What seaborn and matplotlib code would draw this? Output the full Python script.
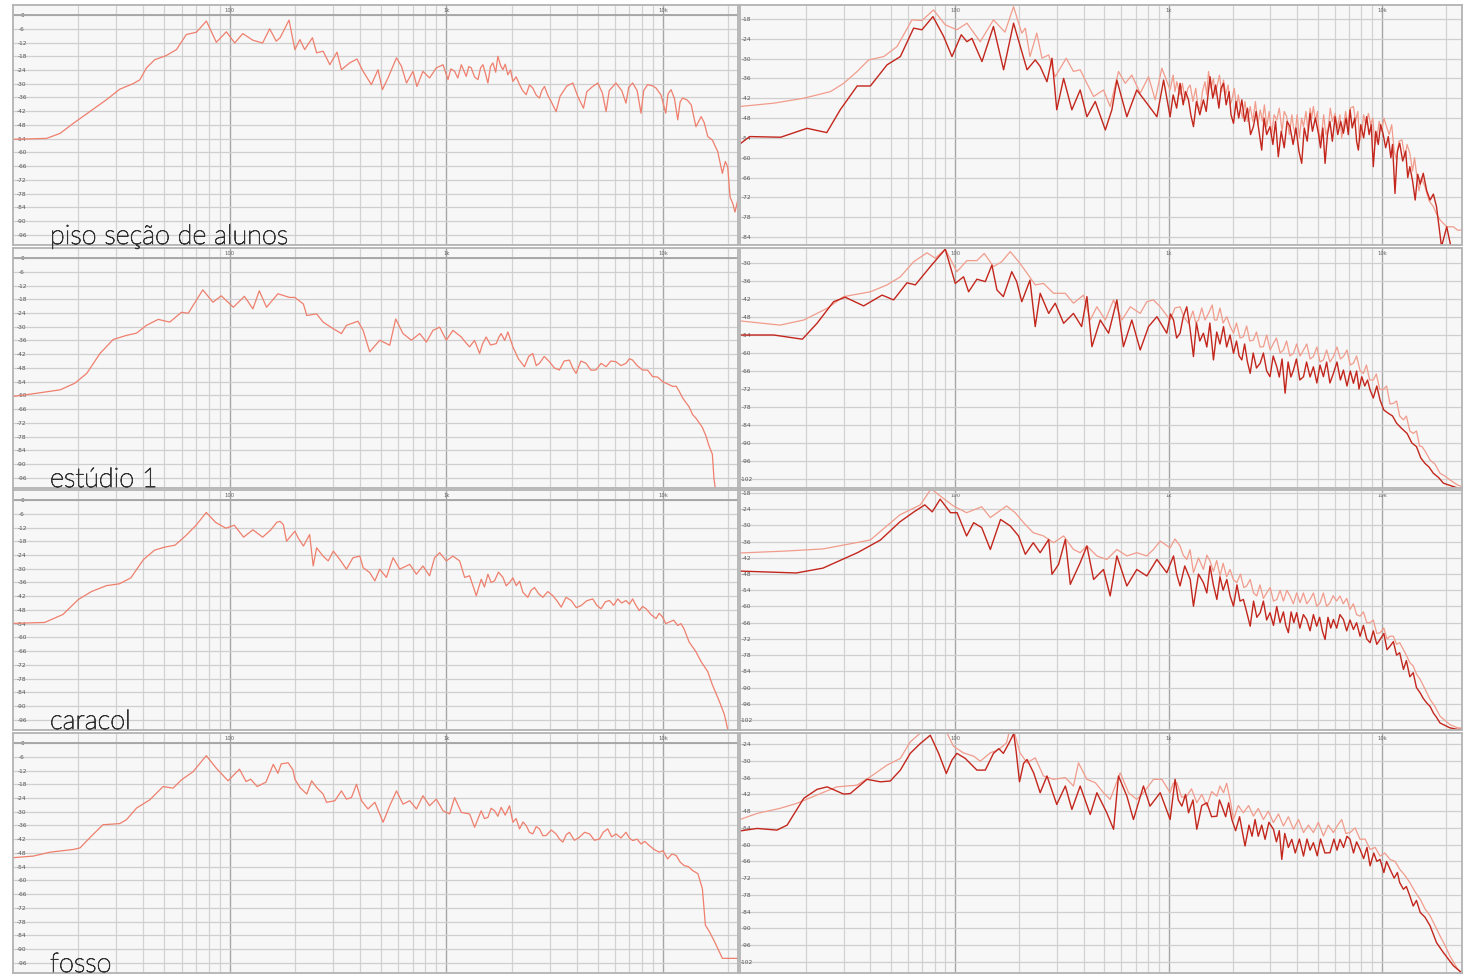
import matplotlib
matplotlib.use("Agg")
import matplotlib.pyplot as plt
import matplotlib.patheffects as pe
import seaborn as sns
import pandas as pd
from matplotlib.ticker import FixedLocator, LogLocator, NullFormatter

# =========================
# DATA  (frequency Hz, level dB)
# =========================
# left column: one response per room
PISO = [(10, -54.3), (14.3, -53.9), (16.5, -51.7), (19.0, -47.3), (22.6, -42.2), (27.0, -37.0), (31.1, -32.4),
        (35.8, -30.0), (38.5, -28.3), (41.3, -23.1), (45.1, -19.5), (51.0, -17.7), (56.8, -15.1), (63.1, -8.5),
        (70.2, -7.5), (78.1, -2.6), (86.8, -11.9), (96.6, -7.3), (105.5, -12.2), (115, -8.1), (128, -11.0),
        (142, -12.2), (153, -6.0), (164, -11.4), (171, -9.9), (188, -2.2), (200, -15.1), (211, -10.7), (222, -15.1),
        (241, -9.9), (252, -16.5), (270, -15.8), (290, -21.7), (313, -16.2), (328, -23.9), (358, -20.9), (387, -19.2),
        (413, -24.6), (451, -30.4), (484, -23.9), (507, -32.6), (538, -27.5), (589, -18.7), (621, -22.4),
        (655, -29.7), (702, -24.6), (732, -31.2), (780, -24.6), (837, -27.5), (899, -23.1), (966, -21.7),
        (1018, -28.2), (1050, -23.5), (1092, -24.6), (1130, -27.5), (1173, -21.7), (1236, -26.8), (1270, -22.5),
        (1304, -23.1), (1350, -27.0), (1400, -28.2), (1440, -23.0), (1476, -21.7), (1520, -26.0), (1556, -29.7),
        (1600, -22.5), (1640, -20.9), (1690, -25.0), (1730, -18.0), (1780, -22.0), (1825, -23.9), (1870, -21.5),
        (1924, -26.1), (1980, -24.0), (2029, -29.0), (2100, -27.0), (2178, -30.4), (2250, -33.0), (2337, -34.8),
        (2420, -30.5), (2507, -31.9), (2600, -35.0), (2692, -36.3), (2760, -33.0), (2839, -31.2), (2940, -35.0),
        (3047, -37.8), (3212, -42.2), (3350, -35.5), (3600, -31.0), (3838, -29.7), (4047, -35.6), (4297, -40.7),
        (4450, -33.5), (4700, -31.5), (5002, -29.7), (5250, -34.0), (5463, -42.2), (5650, -33.0), (6070, -29.7),
        (6450, -33.0), (6750, -38.5), (6950, -31.5), (7244, -29.7), (7600, -33.0), (7918, -42.9), (8150, -33.0),
        (8494, -30.4), (9000, -31.0), (9290, -31.9), (9800, -35.0), (10300, -42.9), (10550, -34.5), (10900, -32.6),
        (11300, -36.5), (11700, -45.8), (12000, -38.0), (12300, -36.3), (12900, -37.0), (13500, -39.2),
        (14200, -48.8), (15000, -44.4), (15500, -47.0), (16100, -53.1), (16900, -54.6), (17900, -59.7),
        (18800, -69.2), (19400, -64.0), (19900, -66.3), (20400, -79.5), (21000, -82.4), (21500, -86.1),
        (22500, -78.0)]

ESTUDIO = [(10, -60.5), (12.4, -59.3), (16.5, -57.6), (19.3, -54.7), (21.9, -50.4), (25.2, -41.7), (29.0, -35.6),
           (33.4, -33.8), (37.2, -32.8), (41.3, -29.4), (46.8, -26.8), (52.9, -28.0), (59.9, -23.7), (64.4, -24.1),
           (75.2, -13.9), (83.7, -19.3), (91.5, -16.5), (104, -21.5), (117, -16.7), (128, -22.2), (137, -14.3),
           (148, -21.5), (167, -15.6), (189, -17.2), (200, -17.2), (219, -20.1), (227, -25.1), (252, -24.4),
           (270, -28.0), (301, -30.9), (328, -33.0), (346, -29.4), (391, -27.6), (413, -31.6), (443, -41.0),
           (493, -35.9), (548, -38.1), (584, -26.6), (631, -33.0), (690, -35.9), (754, -33.0), (809, -36.7),
           (868, -31.6), (932, -30.2), (1000, -35.9), (1073, -31.6), (1173, -34.5), (1230, -37.0), (1281, -38.8),
           (1350, -36.0), (1425, -41.7), (1470, -37.5), (1528, -34.5), (1600, -38.0), (1700, -37.4), (1750, -34.5),
           (1791, -33.0), (1860, -36.0), (1924, -32.3), (2029, -38.8), (2150, -44.0), (2295, -47.5), (2400, -43.0),
           (2507, -41.7), (2600, -47.0), (2692, -46.0), (2830, -43.0), (2993, -45.3), (3150, -48.0), (3327, -48.9),
           (3500, -45.0), (3700, -44.6), (3830, -48.0), (3970, -50.4), (4180, -45.0), (4415, -46.0), (4650, -49.0),
           (4909, -48.9), (5180, -46.0), (5463, -47.5), (5750, -45.0), (6070, -45.3), (6400, -47.0), (6750, -46.0),
           (7000, -44.0), (7244, -44.6), (7600, -47.0), (8054, -48.9), (8500, -49.0), (8955, -51.8), (9450, -52.0),
           (9960, -54.0), (10500, -55.0), (11100, -56.1), (11500, -56.0), (11900, -58.3), (12300, -61.0),
           (12800, -63.3), (13200, -65.0), (13700, -68.4), (14200, -70.0), (14700, -72.0), (15200, -74.0),
           (15800, -77.8), (16300, -82.0), (16900, -85.7), (17200, -96.5), (17500, -101.5)]

CARACOL = [(10, -53.9), (14, -53.5), (17, -50.0), (20, -43.5), (23, -40.0), (27, -37.4), (31, -36.6), (35, -34.0),
           (40, -26.0), (45, -21.9), (50, -20.6), (56, -19.7), (63, -15.4), (70, -11.0), (78, -5.4), (86, -9.7),
           (96, -12.3), (105, -11.0), (116, -16.2), (128, -13.0), (142, -16.2), (155, -13.0), (165, -9.7),
           (171, -9.3), (177, -10.8), (183, -18.0), (200, -13.6), (207, -16.5), (219, -20.1), (234, -15.1),
           (243, -28.8), (252, -20.9), (270, -24.5), (285, -26.6), (301, -22.3), (322, -25.9), (346, -30.2),
           (371, -25.2), (399, -24.5), (413, -29.5), (443, -31.7), (468, -35.3), (493, -30.2), (529, -33.8),
           (568, -25.2), (610, -30.2), (678, -28.1), (728, -32.4), (780, -28.8), (837, -33.1), (883, -25.2),
           (932, -23.0), (1000, -26.6), (1073, -24.5), (1152, -26.6), (1215, -33.8), (1281, -33.1), (1375, -41.8),
           (1449, -34.6), (1500, -38.0), (1556, -32.4), (1610, -36.0), (1670, -35.3), (1740, -31.5), (1825, -33.8),
           (1890, -37.5), (1958, -36.0), (2030, -34.0), (2103, -37.4), (2180, -35.5), (2256, -40.3), (2378, -42.5),
           (2460, -39.5), (2553, -38.2), (2670, -41.0), (2789, -42.5), (2940, -40.0), (3102, -41.8), (3240, -44.0),
           (3390, -46.8), (3570, -42.5), (3770, -43.9), (3980, -47.0), (4192, -46.1), (4450, -44.0), (4742, -43.2),
           (4950, -46.0), (5179, -47.5), (5420, -44.5), (5660, -43.9), (5920, -46.0), (6185, -43.2), (6450, -45.0),
           (6750, -43.9), (7000, -45.5), (7244, -43.2), (7500, -46.0), (7780, -48.3), (8050, -46.5), (8356, -47.5),
           (8800, -50.0), (9290, -51.8), (9600, -49.5), (9960, -51.1), (10300, -54.0), (10700, -53.3),
           (11200, -52.5), (11700, -54.8), (12100, -54.0), (12500, -56.2), (13200, -62.0), (14200, -66.3),
           (15000, -70.6), (16100, -75.0), (16900, -80.7), (18200, -87.9), (19200, -93.7), (19900, -100.2),
           (20500, -104.0)]

FOSSO = [(10, -50.1), (12.4, -49.4), (14.8, -47.7), (19.0, -46.5), (20.4, -45.8), (22.6, -41.4), (26.0, -35.7),
         (31.1, -35.2), (33.4, -33.5), (37.2, -28.4), (42.8, -24.8), (49.3, -19.0), (54.8, -19.7), (59.9, -16.1),
         (67.8, -12.5), (78.0, -5.5), (86.8, -11.0), (98.3, -16.5), (111, -11.4), (119, -16.8), (125, -15.8),
         (134, -19.0), (147, -17.1), (159, -9.3), (167, -13.2), (173, -9.1), (186, -8.6), (196, -11.7),
         (200, -15.8), (211, -19.4), (227, -22.3), (239, -16.5), (252, -19.4), (270, -22.3), (280, -25.9),
         (306, -25.2), (328, -20.9), (346, -24.5), (365, -23.8), (385, -18.0), (406, -25.2), (435, -28.8),
         (468, -25.9), (511, -34.6), (548, -27.4), (589, -20.9), (631, -26.7), (678, -25.2), (728, -28.8),
         (780, -23.0), (837, -27.4), (899, -24.5), (966, -29.6), (1036, -31.0), (1092, -23.8), (1173, -30.3),
         (1281, -31.0), (1351, -36.8), (1449, -29.6), (1500, -33.0), (1556, -32.5), (1610, -28.5), (1670, -29.6),
         (1730, -32.0), (1791, -28.1), (1870, -31.5), (1958, -27.4), (2029, -34.6), (2100, -33.0), (2178, -37.5),
         (2260, -34.5), (2337, -36.1), (2420, -39.0), (2507, -39.7), (2600, -36.5), (2692, -37.5), (2790, -40.5),
         (2891, -40.4), (3050, -38.0), (3212, -39.7), (3330, -42.0), (3450, -43.3), (3580, -40.0), (3700, -39.0),
         (3900, -42.5), (4111, -41.2), (4350, -39.0), (4583, -39.7), (4830, -42.5), (5093, -41.9), (5300, -39.0),
         (5559, -37.5), (5800, -41.0), (6070, -39.7), (6400, -41.5), (6750, -39.0), (7000, -41.5), (7244, -42.6),
         (7600, -42.0), (7918, -44.1), (8250, -43.0), (8644, -44.8), (9100, -46.5), (9616, -47.7), (10000, -47.0),
         (10500, -50.6), (11000, -48.5), (11500, -49.1), (12000, -52.0), (12500, -53.5), (13100, -54.0),
         (13700, -55.7), (14500, -57.1), (15200, -63.6), (15700, -79.6), (16400, -82.5), (17300, -86.8),
         (18200, -91.2), (18800, -94.1), (21000, -94.1), (22300, -94.1)]

# right column: two takes per room (light / dark)
PISO_A = [(9.8, -44.5), (14.1, -43.5), (19.5, -42.0), (26.0, -40.0), (30.0, -37.5), (34.7, -33.9), (39.3, -30.4),
          (46.2, -29.4), (53.3, -26.4), (62.7, -18.3), (69.8, -18.5), (79.1, -15.3), (89.8, -19.8), (101.8, -21.3),
          (113.4, -19.3), (130.9, -24.9), (151, -18.3), (171, -22.0), (187.6, -14.3), (205, -22.3), (213, -20.8),
          (224, -29.4), (241, -22.3), (255, -29.9), (274, -28.9), (294, -35.5), (331, -29.9), (358, -33.9),
          (385, -33.4), (414, -37.5), (445, -41.5), (495, -39.5), (532, -44.5), (582, -33.9), (626, -37.5),
          (672, -35.0), (736, -40.5), (805, -35.5), (865, -42.5), (929, -32.9), (1016, -39.5), (1050, -35.0),
          (1070, -40.0), (1092, -37.0), (1130, -41.0), (1160, -37.5), (1195, -42.5), (1230, -39.0), (1262, -38.0),
          (1300, -43.0), (1340, -39.0), (1370, -44.0), (1405, -45.5), (1440, -40.0), (1480, -37.0), (1510, -41.0),
          (1538, -33.9), (1580, -39.0), (1620, -36.0), (1650, -41.0), (1683, -38.5), (1730, -35.0), (1770, -40.0),
          (1808, -36.5), (1850, -41.0), (1900, -38.0), (1940, -44.0), (1978, -42.5), (2030, -39.0), (2080, -45.0),
          (2120, -41.0), (2163, -44.5), (2220, -48.0), (2280, -43.0), (2340, -49.0), (2411, -44.5), (2480, -49.0),
          (2550, -43.0), (2620, -50.0), (2686, -45.5), (2750, -49.0), (2810, -44.0), (2884, -50.6), (2960, -46.0),
          (3040, -53.0), (3120, -47.0), (3212, -48.6), (3300, -45.0), (3400, -52.0), (3480, -46.0), (3577, -47.6),
          (3680, -53.0), (3780, -47.0), (3850, -51.0), (3918, -52.6), (4000, -47.0), (4100, -54.0), (4200, -48.0),
          (4285, -50.6), (4400, -46.0), (4500, -52.0), (4600, -45.0), (4680, -48.0), (4768, -44.5), (4880, -49.0),
          (4980, -46.0), (5100, -55.0), (5211, -52.6), (5330, -47.0), (5450, -53.0), (5606, -50.6), (5720, -45.0),
          (5850, -49.0), (6026, -46.6), (6180, -51.0), (6350, -47.0), (6470, -54.0), (6592, -50.6), (6750, -46.0),
          (6900, -50.0), (7100, -45.0), (7345, -44.5), (7520, -49.0), (7700, -46.0), (7850, -55.0), (8035, -52.6),
          (8200, -47.0), (8400, -50.0), (8630, -46.6), (8850, -50.0), (9050, -48.0), (9250, -56.0), (9442, -54.6),
          (9700, -49.0), (9950, -52.0), (10200, -48.0), (10500, -50.6), (10800, -53.0), (11100, -50.0),
          (11400, -58.0), (11700, -60.7), (12000, -55.0), (12400, -54.6), (12800, -60.0), (13100, -56.0),
          (13500, -58.7), (13900, -64.0), (14200, -60.0), (14500, -64.7), (14900, -70.0), (15300, -66.0),
          (15900, -68.8), (16600, -73.0), (17400, -74.8), (18000, -77.0), (18700, -78.8), (20100, -80.9),
          (21600, -80.9), (22600, -81.9), (23700, -81.9)]
PISO_B = [(9.8, -55.8), (10.9, -53.6), (15.2, -53.8), (20.2, -51.1), (25.0, -52.4), (28.9, -45.5), (34.7, -38.3),
          (40.0, -38.3), (47.9, -31.9), (55.3, -29.4), (63.8, -20.8), (69.8, -21.3), (78.6, -17.3), (88.2, -23.3),
          (96.5, -29.4), (106.7, -22.8), (113.4, -24.9), (119.7, -23.9), (133.4, -30.9), (151, -20.3),
          (168.5, -33.4), (187.6, -19.3), (205, -27.9), (217, -33.4), (237, -30.4), (250, -32.4), (269, -37.0),
          (284, -29.9), (299, -45.5), (322, -36.0), (352, -45.5), (385, -39.5), (414, -47.6), (453, -43.0),
          (505, -51.6), (542, -45.5), (572, -36.5), (637, -47.6), (709, -39.5), (790, -43.5), (881, -47.6),
          (947, -36.5), (1016, -47.6), (1050, -41.0), (1090, -45.0), (1131, -37.5), (1170, -44.0), (1200, -40.0),
          (1239, -42.5), (1270, -47.0), (1307, -50.6), (1350, -43.0), (1400, -47.0), (1455, -42.5), (1500, -46.0),
          (1563, -35.5), (1610, -42.0), (1660, -38.0), (1720, -45.0), (1760, -39.0), (1808, -37.5), (1860, -44.0),
          (1920, -40.0), (1960, -47.0), (2013, -49.6), (2070, -43.0), (2130, -48.0), (2203, -42.5), (2270, -49.0),
          (2340, -45.0), (2420, -53.0), (2496, -50.6), (2570, -46.0), (2650, -52.0), (2730, -57.7), (2800, -48.0),
          (2880, -53.0), (2985, -50.6), (3080, -56.0), (3170, -49.0), (3265, -59.7), (3370, -52.0), (3480, -57.0),
          (3590, -49.0), (3704, -50.6), (3830, -56.0), (3950, -51.0), (4080, -58.0), (4203, -61.7), (4320, -51.0),
          (4460, -55.0), (4600, -46.6), (4720, -52.0), (4870, -48.0), (5033, -52.6), (5150, -57.0), (5280, -51.0),
          (5408, -61.7), (5550, -53.0), (5700, -49.0), (5850, -55.0), (6026, -47.6), (6200, -53.0), (6400, -49.0),
          (6592, -52.6), (6780, -48.0), (6950, -53.0), (7080, -45.5), (7250, -51.0), (7450, -48.0), (7600, -55.0),
          (7745, -57.7), (7950, -50.0), (8200, -54.0), (8470, -47.6), (8700, -53.0), (8900, -50.0), (9100, -62.7),
          (9350, -52.0), (9600, -56.0), (9850, -50.0), (10100, -52.6), (10400, -57.0), (10700, -53.6),
          (11000, -60.0), (11200, -56.0), (11500, -70.8), (11800, -58.0), (12100, -55.6), (12500, -61.0),
          (12900, -58.0), (13200, -66.0), (13500, -62.7), (13900, -67.0), (14300, -72.8), (14700, -65.0),
          (15100, -68.0), (15600, -64.7), (16200, -70.0), (16800, -72.8), (17400, -71.0), (18000, -74.8),
          (19000, -86.9), (20100, -80.9), (21200, -88.0), (23700, -88.0)]

ESTUDIO_A = [(9.8, -49.3), (15.1, -50.7), (19.5, -49.0), (25.1, -45.1), (30.0, -41.2), (40.0, -39.6), (47.9, -37.3),
             (55.3, -34.6), (63.8, -29.6), (73.7, -26.6), (80.6, -28.4), (89.8, -25.4), (101.8, -32.9),
             (113.4, -29.2), (126.3, -29.2), (136.7, -26.8), (151, -31.2), (165, -29.6), (181, -26.2), (201, -30.1),
             (217, -33.4), (237, -37.3), (259, -36.8), (289, -40.1), (328, -40.1), (358, -43.4), (399, -40.7),
             (429, -49.0), (461, -44.6), (505, -49.0), (552, -42.3), (604, -49.0), (661, -44.6), (736, -46.8),
             (790, -42.9), (849, -42.3), (913, -44.6), (1016, -49.0), (1070, -45.0), (1131, -44.6), (1180, -48.0),
             (1239, -50.1), (1300, -46.0), (1340, -50.0), (1380, -49.0), (1430, -45.0), (1480, -49.0), (1538, -46.8),
             (1600, -44.0), (1640, -49.0), (1683, -49.0), (1740, -45.0), (1800, -50.0), (1873, -47.9), (1940, -51.0),
             (2013, -53.4), (2080, -50.0), (2160, -55.0), (2240, -54.6), (2320, -51.0), (2400, -56.0), (2496, -55.7),
             (2580, -53.0), (2680, -58.0), (2781, -57.9), (2880, -54.0), (2990, -59.0), (3098, -56.8), (3200, -55.0),
             (3330, -60.0), (3451, -59.0), (3570, -56.0), (3700, -61.0), (3845, -60.1), (3980, -57.0), (4130, -61.0),
             (4285, -59.0), (4440, -57.0), (4600, -62.0), (4768, -61.2), (4950, -58.0), (5120, -63.0), (5312, -62.3),
             (5500, -59.0), (5700, -63.0), (5917, -61.2), (6150, -58.0), (6380, -62.0), (6592, -61.2), (6850, -59.0),
             (7100, -64.0), (7345, -63.4), (7600, -61.0), (7900, -66.0), (8180, -66.8), (8450, -64.0), (8750, -69.0),
             (9100, -69.0), (9400, -67.0), (9750, -72.0), (10100, -72.3), (10500, -71.0), (10900, -77.0),
             (11300, -76.8), (11700, -76.0), (12100, -81.0), (12600, -82.3), (13000, -81.0), (13500, -86.0),
             (14000, -86.8), (14500, -86.0), (15000, -91.0), (15400, -91.2), (16000, -93.0), (16800, -95.7),
             (17700, -97.0), (18700, -100.1), (19700, -101.0), (20800, -102.3), (22600, -104.0), (23700, -104.5)]
ESTUDIO_B = [(9.8, -54.0), (14.1, -54.0), (19.2, -55.4), (22.5, -50.1), (26.9, -42.9), (30.5, -41.4), (37.2, -44.3),
             (45.4, -40.7), (51.4, -42.3), (59.4, -36.6), (65.0, -37.3), (76.4, -31.2), (89.8, -25.4), (100, -36.8),
             (109.4, -34.6), (115.5, -39.6), (126.3, -35.4), (138.3, -36.2), (148.5, -30.7), (156.8, -39.0),
             (168, -41.2), (184, -32.9), (194, -36.2), (205, -42.9), (224, -35.7), (237, -51.2), (250, -40.1),
             (274, -46.8), (294, -43.4), (322, -50.1), (358, -46.8), (391, -51.2), (414, -41.2), (437, -57.9),
             (478, -49.0), (523, -53.4), (572, -42.3), (614, -57.9), (672, -49.0), (736, -59.0), (805, -51.2),
             (881, -47.9), (980, -53.4), (1020, -47.0), (1054, -49.0), (1090, -55.0), (1131, -53.4), (1170, -48.0),
             (1216, -44.6), (1260, -52.0), (1307, -61.2), (1350, -50.0), (1400, -56.0), (1455, -53.4), (1510, -58.0),
             (1560, -50.0), (1622, -62.3), (1680, -53.0), (1740, -57.0), (1808, -51.2), (1870, -58.0), (1940, -54.0),
             (2013, -60.1), (2080, -56.0), (2140, -61.0), (2203, -62.3), (2270, -57.0), (2340, -63.0), (2411, -66.8),
             (2490, -60.0), (2580, -65.0), (2686, -63.4), (2780, -60.0), (2880, -66.0), (2985, -67.9), (3090, -61.0),
             (3212, -64.6), (3300, -68.0), (3400, -62.0), (3514, -73.4), (3630, -63.0), (3740, -68.0), (3845, -65.7),
             (3970, -62.0), (4120, -69.0), (4285, -67.9), (4430, -63.0), (4600, -68.0), (4768, -64.6), (4950, -70.0),
             (5120, -64.0), (5312, -67.9), (5500, -63.0), (5700, -70.0), (5917, -66.8), (6150, -63.0), (6380, -69.0),
             (6592, -65.7), (6850, -71.0), (7100, -66.0), (7345, -70.1), (7600, -66.0), (7800, -72.0), (8035, -67.9),
             (8300, -71.0), (8550, -69.0), (8790, -72.3), (9100, -75.0), (9450, -71.0), (9790, -75.7),
             (10200, -79.0), (10700, -80.1), (11200, -81.0), (11700, -83.4), (12300, -85.0), (13100, -86.8),
             (13800, -90.0), (14500, -91.2), (15200, -95.0), (15900, -96.8), (16600, -98.0), (17400, -100.1),
             (18400, -101.5), (19400, -103.4), (22600, -105.0), (23700, -105.5)]

CARACOL_A = [(9.8, -40.2), (16, -39.5), (24, -38.7), (40, -35.4), (55, -26.1), (68.6, -22.4), (77, -16.5),
             (85, -19.1), (98, -22.8), (113, -25.3), (133, -23.1), (146, -27.1), (174, -22.8), (191, -25.3),
             (209, -29.0), (232, -32.7), (259, -33.9), (289, -36.4), (322, -33.9), (358, -38.9), (385, -40.1),
             (414, -37.6), (461, -41.3), (513, -42.6), (572, -38.9), (637, -41.3), (709, -40.1), (790, -41.3),
             (849, -38.9), (913, -35.8), (1016, -38.3), (1070, -35.0), (1131, -37.6), (1170, -41.0), (1216, -42.6),
             (1260, -39.0), (1307, -47.5), (1380, -42.0), (1455, -46.3), (1510, -41.0), (1563, -43.2), (1620, -47.0),
             (1680, -43.0), (1741, -48.7), (1800, -44.0), (1870, -49.0), (1940, -46.3), (2010, -50.0), (2085, -51.2),
             (2170, -48.0), (2250, -53.0), (2322, -52.4), (2410, -50.0), (2500, -55.0), (2587, -56.1), (2680, -52.0),
             (2780, -57.0), (2884, -54.9), (2990, -53.0), (3100, -58.0), (3212, -57.4), (3330, -54.0), (3450, -58.0),
             (3580, -54.0), (3704, -56.1), (3840, -59.0), (3980, -55.0), (4129, -58.6), (4280, -55.0), (4440, -59.0),
             (4600, -57.4), (4770, -55.0), (4950, -60.0), (5127, -58.6), (5310, -55.0), (5500, -60.0), (5704, -58.6),
             (5900, -56.0), (6120, -58.0), (6353, -56.1), (6580, -59.0), (6830, -57.0), (7080, -61.1), (7340, -59.0),
             (7600, -63.0), (7889, -63.6), (8180, -62.0), (8480, -66.0), (8790, -66.0), (9100, -65.0), (9450, -70.0),
             (9790, -69.7), (10200, -68.0), (10550, -72.0), (10900, -71.0), (11300, -71.0), (11700, -74.0),
             (12100, -73.4), (12600, -76.0), (13000, -78.0), (13500, -80.8), (14000, -82.0), (14500, -85.0),
             (15100, -87.0), (16000, -91.0), (16800, -94.4), (17700, -97.0), (18700, -100.6), (20800, -103.7),
             (22600, -104.9), (23700, -105.0)]
CARACOL_B = [(9.8, -46.9), (18, -47.6), (24, -45.8), (35, -40.0), (44.6, -35.4), (55, -28.7), (64, -25.0),
             (72, -22.4), (78, -25.0), (85, -20.3), (95, -25.3), (102, -25.3), (113, -33.9), (122, -29.0),
             (133, -30.8), (146, -38.9), (163, -27.8), (181, -30.2), (198, -33.9), (213, -40.7), (232, -36.4),
             (250, -40.1), (274, -35.2), (284, -48.1), (305, -44.4), (328, -35.2), (346, -51.8), (385, -43.8),
             (414, -37.6), (445, -50.0), (495, -46.3), (532, -56.1), (572, -41.3), (637, -52.4), (709, -46.3),
             (790, -48.7), (881, -42.6), (980, -47.5), (1054, -41.3), (1090, -48.0), (1131, -52.4), (1190, -45.0),
             (1262, -50.0), (1307, -59.9), (1380, -48.0), (1455, -51.2), (1510, -55.0), (1563, -45.0), (1620, -52.0),
             (1683, -57.4), (1740, -49.0), (1800, -54.0), (1873, -50.0), (1940, -56.0), (2013, -59.9), (2090, -52.0),
             (2160, -58.0), (2240, -57.4), (2320, -62.0), (2411, -67.3), (2500, -58.0), (2590, -64.0), (2686, -62.3),
             (2780, -58.0), (2880, -65.0), (2985, -62.3), (3100, -67.0), (3210, -60.0), (3327, -66.0), (3450, -62.0),
             (3540, -67.0), (3640, -69.7), (3750, -62.0), (3860, -66.0), (3981, -62.3), (4120, -68.0), (4280, -63.0),
             (4433, -64.8), (4600, -69.0), (4770, -63.0), (4940, -67.3), (5100, -64.0), (5250, -69.0), (5408, -72.2),
             (5580, -64.0), (5750, -68.0), (5917, -64.8), (6130, -68.0), (6350, -63.0), (6592, -64.8), (6830, -69.0),
             (7080, -65.0), (7345, -68.5), (7600, -66.0), (7889, -71.0), (8180, -67.0), (8480, -72.0), (8790, -73.4),
             (9100, -69.0), (9450, -74.0), (9790, -72.2), (10200, -70.0), (10550, -76.0), (10900, -74.7),
             (11300, -73.0), (11700, -78.0), (12100, -77.1), (12600, -83.3), (13000, -80.0), (13500, -86.0),
             (14000, -84.5), (14500, -90.0), (15100, -92.0), (15600, -94.0), (16200, -95.7), (16800, -97.0),
             (17400, -99.4), (18000, -101.0), (18700, -103.1), (20800, -104.9), (22600, -105.5), (23700, -105.5)]

FOSSO_A = [(9.8, -51.0), (11.8, -48.8), (15.1, -47.0), (18.1, -45.2), (22.5, -42.2), (27.9, -39.3), (34.6, -38.7),
           (40.0, -35.7), (47.9, -31.5), (55.3, -29.1), (61.5, -23.2), (69.8, -19.5), (78, -16.0), (88, -17.0),
           (93, -21.1), (98, -24.7), (109, -27.1), (122, -28.3), (131, -30.1), (146, -27.1), (160, -25.9),
           (174, -23.5), (181, -18.0), (188, -19.0), (201, -27.1), (217, -30.7), (237, -28.9), (259, -35.4),
           (289, -36.6), (328, -36.0), (358, -39.0), (378, -30.7), (414, -36.6), (453, -37.8), (495, -41.4),
           (532, -43.8), (593, -34.3), (649, -41.4), (709, -43.8), (762, -41.4), (849, -36.6), (929, -36.6),
           (1016, -41.4), (1050, -38.0), (1092, -37.8), (1150, -43.0), (1216, -42.6), (1280, -40.0), (1355, -45.0),
           (1430, -42.0), (1510, -46.2), (1590, -41.0), (1683, -42.6), (1740, -39.0), (1808, -41.4), (1870, -38.0),
           (1940, -43.8), (2013, -51.0), (2120, -46.0), (2240, -48.6), (2370, -46.0), (2496, -49.8), (2630, -47.0),
           (2781, -51.0), (2930, -48.0), (3098, -52.1), (3270, -49.0), (3451, -53.3), (3640, -50.0), (3845, -54.5),
           (4060, -51.0), (4285, -55.7), (4520, -53.0), (4768, -55.7), (5030, -52.0), (5312, -56.9), (5600, -53.0),
           (5917, -55.7), (6200, -53.0), (6471, -51.0), (6770, -56.0), (7080, -55.7), (7480, -54.0), (7889, -58.1),
           (8330, -58.0), (8790, -61.7), (9290, -61.0), (9790, -64.1), (10300, -63.0), (10900, -65.3),
           (11500, -66.0), (12100, -68.8), (12800, -71.0), (13500, -73.6), (14300, -77.0), (15100, -79.6),
           (15900, -83.0), (16800, -85.5), (17700, -89.0), (18700, -92.7), (19700, -96.0), (20800, -99.9),
           (22600, -104.6), (23700, -106.0)]
FOSSO_B = [(9.8, -55.1), (11.8, -54.2), (14.6, -54.8), (16.3, -53.0), (19.5, -43.4), (22.5, -40.2), (25.1, -39.3),
           (30.0, -41.9), (32.2, -41.7), (38.6, -36.6), (44.6, -37.5), (49.6, -37.2), (55.3, -33.3), (61.5, -27.3),
           (68.5, -23.8), (76.4, -20.8), (83.6, -27.3), (90.8, -34.5), (96.5, -29.7), (101.8, -27.3),
           (111.4, -29.1), (126.3, -33.3), (138.3, -33.3), (151, -27.3), (160, -25.6), (168, -27.3), (178, -23.8),
           (188, -20.2), (193, -26.7), (200, -37.5), (209, -30.9), (217, -29.5), (233, -34.3), (250, -41.4),
           (269, -35.4), (299, -45.6), (328, -39.0), (352, -47.4), (385, -39.0), (429, -49.2), (461, -41.4),
           (513, -48.6), (552, -54.5), (582, -35.4), (637, -42.6), (684, -51.0), (762, -39.0), (818, -46.2),
           (913, -41.4), (1016, -51.0), (1072, -36.6), (1110, -44.0), (1153, -46.2), (1200, -42.0), (1239, -48.6),
           (1300, -44.0), (1355, -54.5), (1430, -46.0), (1510, -45.0), (1590, -50.0), (1683, -49.8), (1730, -44.0),
           (1776, -46.2), (1850, -50.0), (1910, -45.0), (1978, -51.0), (2060, -55.0), (2150, -50.0), (2280, -60.5),
           (2380, -53.0), (2460, -57.0), (2541, -51.0), (2630, -57.0), (2730, -53.0), (2830, -58.1), (2950, -52.0),
           (3098, -54.5), (3200, -59.0), (3300, -55.0), (3390, -65.3), (3500, -56.0), (3640, -61.0), (3776, -58.1),
           (3920, -63.0), (4100, -58.0), (4285, -64.1), (4450, -58.0), (4600, -62.0), (4768, -59.3), (4970, -64.0),
           (5150, -58.0), (5400, -63.0), (5704, -62.9), (5950, -58.0), (6150, -62.0), (6353, -58.1), (6600, -61.0),
           (6850, -57.0), (7080, -58.1), (7350, -63.0), (7600, -59.0), (7889, -61.7), (8200, -65.0), (8500, -61.0),
           (8790, -67.6), (9150, -63.0), (9450, -66.0), (9790, -65.3), (10200, -70.0), (10500, -66.0),
           (10900, -68.8), (11400, -72.0), (11800, -70.0), (12100, -73.6), (12600, -76.0), (13000, -75.0),
           (13500, -78.4), (14000, -82.0), (14500, -80.0), (15100, -84.3), (15900, -86.0), (16800, -89.1),
           (18000, -95.1), (19400, -98.7), (21600, -103.4), (23700, -106.0)]

NAMES = ["piso seção de alunos", "estúdio 1", "caracol", "fosso"]
LEFT_CURVES = [PISO, ESTUDIO, CARACOL, FOSSO]
RIGHT_CURVES = [(PISO_A, PISO_B), (ESTUDIO_A, ESTUDIO_B), (CARACOL_A, CARACOL_B), (FOSSO_A, FOSSO_B)]

LEFT_YTICKS = list(range(0, -97, -6))
RIGHT_YTICKS = [list(range(-18, -85, -6)), list(range(-30, -103, -6)),
                list(range(-18, -103, -6)), list(range(-24, -103, -6))]
LEFT_YLIM = (-100.5, 4.4)
RIGHT_YLIM = [(-86.4, -13.8), (-105, -25), (-105.7, -16.9), (-106, -20)]
FREQ_TICKS = [100, 1000, 10000]
FREQ_LABELS = ["100", "1k", "10k"]

# =========================
# LAYOUT / STYLE
# =========================
W, H = 1468, 976
ROW_TOPS = [5, 248, 490, 733]
ROW_H = 240
LEFT_X = (13, 738)
RIGHT_X = (740, 1462)

SALMON = "#ef7f6d"
LIGHT = "#f19c8c"
DARK = "#c3261c"
INK = "#333333"

sns.set_style("white")


def to_df(pairs):
    return pd.DataFrame(pairs, columns=["freq", "db"])


def style_panel(ax, ylim, yticks, xlim, zero_line=False, ypad=-7):
    ax.set_xscale("log")
    ax.set_xlim(*xlim)
    ax.set_ylim(*ylim)
    ax.set_facecolor("#f7f7f7")
    ax.xaxis.set_major_locator(FixedLocator(FREQ_TICKS))
    ax.xaxis.set_minor_locator(LogLocator(base=10, subs=range(2, 10)))
    ax.xaxis.set_minor_formatter(NullFormatter())
    ax.set_xticklabels(FREQ_LABELS)
    ax.set_yticks(yticks)
    ax.set_yticklabels([str(t) for t in yticks])
    ax.grid(which="major", axis="x", color="#a6a6a6", lw=1.0)
    ax.grid(which="minor", axis="x", color="#d2d2d2", lw=0.9)
    ax.grid(which="major", axis="y", color="#cfcfcf", lw=0.9)
    ax.set_axisbelow(True)
    ax.tick_params(axis="x", which="both", bottom=False, top=False, labelbottom=False, labeltop=True,
                   length=0, pad=-6, labelsize=3.8, labelcolor="#666666")
    ax.tick_params(axis="y", length=0, pad=ypad, labelsize=4.2, labelcolor="#555555")
    plt.setp(ax.get_yticklabels(), ha="center")
    ax.set_xlabel("")
    ax.set_ylabel("")
    for s in ax.spines.values():
        s.set_color("#b3b3b3")
        s.set_linewidth(1.3)
    if zero_line:
        ax.axhline(0, color="#a3a3a3", lw=1.3, zorder=1)


fig = plt.figure(figsize=(W / 100, H / 100), dpi=100)

for i in range(4):
    bottom = 1 - (ROW_TOPS[i] + ROW_H) / H
    h = ROW_H / H

    axl = fig.add_axes([LEFT_X[0] / W, bottom, (LEFT_X[1] - LEFT_X[0]) / W, h])
    axl.set_xscale("log")
    sns.lineplot(data=to_df(LEFT_CURVES[i]), x="freq", y="db", ax=axl, color=SALMON, lw=0.9,
                 estimator=None, sort=False)
    style_panel(axl, LEFT_YLIM, LEFT_YTICKS, (10, 22200), zero_line=True, ypad=-6.5)

    axr = fig.add_axes([RIGHT_X[0] / W, bottom, (RIGHT_X[1] - RIGHT_X[0]) / W, h])
    axr.set_xscale("log")
    light, dark = RIGHT_CURVES[i]
    sns.lineplot(data=to_df(light), x="freq", y="db", ax=axr, color=LIGHT, lw=0.9,
                 estimator=None, sort=False)
    sns.lineplot(data=to_df(dark), x="freq", y="db", ax=axr, color=DARK, lw=1.0,
                 estimator=None, sort=False)
    style_panel(axr, RIGHT_YLIM[i], RIGHT_YTICKS[i], (9.8, 23700), ypad=-4.5)

    # room name, thin type sitting on the panel's lower edge
    fig.text(50 / W, 1 - (ROW_TOPS[i] + 239) / H, NAMES[i], fontsize=19.5,
             family=["Lato", "DejaVu Sans"], fontweight="light", color=INK,
             ha="left", va="baseline", zorder=5,
             path_effects=[pe.withStroke(linewidth=0.6, foreground=INK)])

fig.savefig("out.png", dpi=100, facecolor="white")
